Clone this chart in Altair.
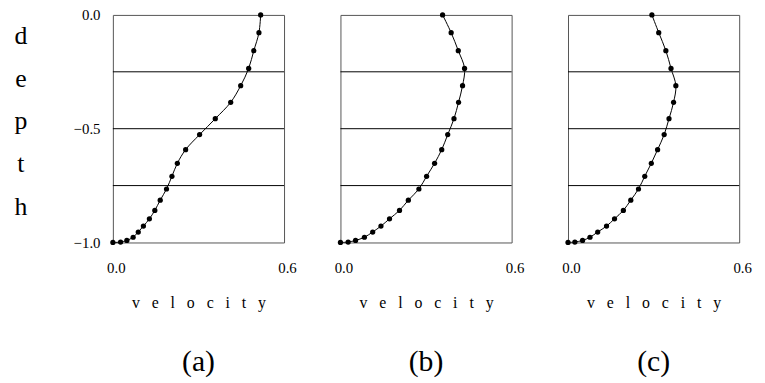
import altair as alt
import pandas as pd

depth = [0.0, -0.078, -0.157, -0.235, -0.311, -0.384, -0.456, -0.526, -0.592, -0.652,
         -0.709, -0.765, -0.814, -0.859, -0.896, -0.928, -0.954, -0.977, -0.991, -0.998, -1.0]
vel_a = [0.518, 0.512, 0.494, 0.476, 0.448, 0.413, 0.359, 0.304, 0.255, 0.226,
         0.207, 0.188, 0.166, 0.147, 0.128, 0.107, 0.089, 0.071, 0.049, 0.027, 0.0]
vel_b = [0.358, 0.388, 0.413, 0.435, 0.428, 0.414, 0.398, 0.376, 0.355, 0.330,
         0.302, 0.275, 0.238, 0.207, 0.172, 0.142, 0.113, 0.084, 0.053, 0.027, 0.0]
vel_c = [0.294, 0.318, 0.343, 0.361, 0.378, 0.370, 0.354, 0.337, 0.314, 0.292,
         0.269, 0.247, 0.220, 0.194, 0.163, 0.135, 0.104, 0.077, 0.051, 0.024, 0.0]
panel_labels = ["(a)", "(b)", "(c)"]
grid_depths = [-0.25, -0.5, -0.75]
x_ticks = [0.0, 0.6]
y_ticks = [0.0, -0.5, -1.0]
x_title = " \u2002".join(list("velocity"))
y_title = list("depth")

FONT = "Liberation Serif"
xscale = alt.Scale(domain=[0, 0.6], nice=False, zero=False)
yscale = alt.Scale(domain=[-1, 0], nice=False, zero=False)
minus_expr = "replace(datum.label, '-', '\u2212')"


def panel(vel, label, first):
    df = pd.DataFrame({"velocity": vel, "depth": depth, "k": list(range(len(depth)))})
    xaxis = alt.Axis(values=x_ticks, format=".1f", title=x_title, labelPadding=18,
                     labelOffset=3, labelFlush=False, titlePadding=20, titleFontSize=16)
    if first:
        yaxis = alt.Axis(values=y_ticks, format=".1f", labelExpr=minus_expr,
                         title=y_title, labelPadding=13, labelFlush=False,
                         titleAngle=0, titleAlign="center", titleBaseline="alphabetic",
                         titleX=-93.5, titleY=28.7, titleLineHeight=43.3, titleFontSize=26)
        y = alt.Y("depth:Q", scale=yscale, axis=yaxis)
    else:
        y = alt.Y("depth:Q", scale=yscale, axis=None)
    x = alt.X("velocity:Q", scale=xscale, axis=xaxis)

    grid = alt.Chart(pd.DataFrame({"depth": grid_depths})).mark_rule(
        color="black", strokeWidth=1).encode(y=y)
    line = alt.Chart(df).mark_line(color="black", strokeWidth=1,
                                   interpolate="catmull-rom").encode(x=x, y=y, order="k:Q")
    pts = alt.Chart(df).mark_circle(color="black", size=28, opacity=1).encode(x=x, y=y)
    return alt.layer(grid, line, pts).properties(
        width=173, height=230,
        title=alt.TitleParams(label, orient="bottom", fontSize=30, font=FONT,
                              fontWeight="normal", offset=37, anchor="middle", color="black"))


chart = alt.hconcat(
    panel(vel_a, panel_labels[0], True),
    panel(vel_b, panel_labels[1], False),
    panel(vel_c, panel_labels[2], False),
    spacing=57, bounds="flush",
).properties(
    padding={"left": 5, "top": -3, "right": 5, "bottom": 0}
).configure_view(
    stroke="#555", strokeWidth=1
).configure_axis(
    labelFont=FONT, titleFont=FONT, labelFontSize=15, labelColor="black",
    titleColor="black", titleFontWeight="normal", ticks=False, domain=False, grid=False
)

chart.save("out.html", embed_options={"renderer": "svg", "actions": False})
